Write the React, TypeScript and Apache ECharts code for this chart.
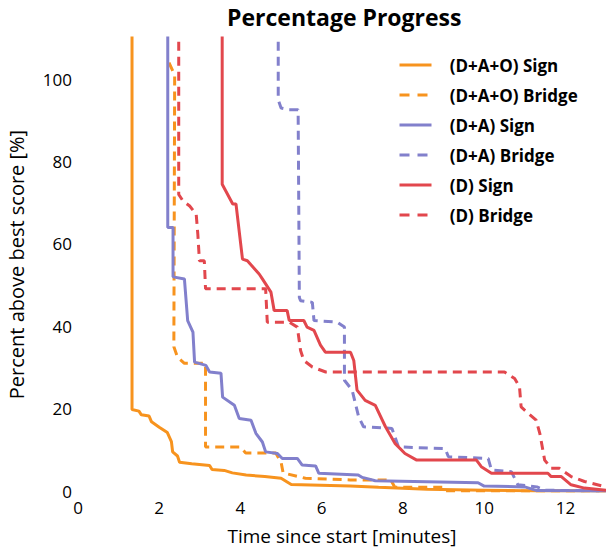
import React, { useEffect, useRef } from "react";
import * as echarts from "echarts";

const seriesNames = [
  "(D+A+O) Sign",
  "(D+A+O) Bridge",
  "(D+A) Sign",
  "(D+A) Bridge",
  "(D) Sign",
  "(D) Bridge",
];

const daoSignX = [1.33, 1.33, 1.5, 1.56, 1.75, 1.81, 2.0, 2.2, 2.3, 2.33, 2.45, 2.5, 2.8, 3.24, 3.3, 3.6, 3.8, 4.14, 4.6, 5.0, 5.15, 5.25, 6.7, 7.4, 8.6, 10.0, 11.3, 13];
const daoSignY = [120, 19.8, 19.4, 18.5, 18.2, 16.8, 15.5, 14.2, 12, 9.5, 8.5, 7, 6.6, 6.2, 5.2, 5, 4.4, 3.9, 3.5, 3.1, 2.2, 1.6, 1.2, 0.9, 0.4, 0.2, 0, 0];

const daoBridgeX = [2.24, 2.38, 2.36, 2.45, 2.62, 3.14, 3.14, 4.0, 4.13, 4.87, 5.0, 5.05, 5.6, 6.7, 7.7, 7.8, 9.0, 9.05, 13];
const daoBridgeY = [104, 101, 35, 32.5, 31, 31, 10.7, 10.7, 9.2, 9.2, 7, 4.4, 3.1, 2.7, 2.7, 0.9, 0.9, 0, 0];

const daSignX = [2.21, 2.21, 2.34, 2.34, 2.62, 2.7, 2.83, 2.87, 3.15, 3.24, 3.52, 3.56, 3.85, 3.97, 4.26, 4.38, 4.54, 4.62, 4.91, 5.03, 5.4, 5.52, 5.85, 5.93, 6.9, 7.0, 7.32, 9.85, 10.0, 11.0, 11.3, 13];
const daSignY = [120, 64, 64, 52, 51.5, 41.4, 38.6, 31.3, 30.5, 28.9, 28.6, 22.8, 20.8, 17.6, 17.2, 14, 11.9, 9.5, 9.1, 7.9, 7.9, 6.3, 6.1, 4.3, 3.9, 3.3, 2.5, 2.0, 1.2, 1.0, 0.1, 0];

const daBridgeX = [4.93, 4.93, 5.0, 5.2, 5.42, 5.45, 5.48, 5.77, 5.81, 6.38, 6.56, 6.56, 6.75, 6.91, 7.03, 7.73, 7.89, 9.04, 9.12, 10.1, 10.18, 10.67, 10.83, 11.3, 11.5, 13];
const daBridgeY = [120, 95, 93, 92.6, 92.6, 47, 46.2, 45.8, 41.4, 41, 39.8, 26.9, 24.5, 18, 15.6, 15.2, 10.7, 10.3, 8.3, 7.9, 5.1, 4.7, 1.5, 1.0, 0.2, 0];

const dSignX = [3.55, 3.55, 3.81, 3.89, 4.05, 4.17, 4.46, 4.54, 4.75, 4.83, 5.15, 5.2, 5.56, 5.64, 5.81, 5.97, 6.09, 6.71, 6.79, 6.87, 7.07, 7.32, 7.57, 7.81, 8.05, 8.34, 9.81, 9.93, 10.18, 11.57, 11.65, 11.9, 12.14, 12.47, 13];
const dSignY = [120, 74.5, 69.7, 69.7, 56.3, 55.9, 52.7, 51.5, 48.3, 43.8, 43.8, 41.4, 41.4, 39.8, 39, 35.4, 33.7, 33.7, 31.7, 24.5, 22, 20.8, 15.6, 11.5, 9.1, 7.5, 7.5, 5.9, 4.3, 4.3, 3.5, 3.5, 1.5, 0.7, 0.2];

const dBridgeX = [2.48, 2.48, 2.58, 2.75, 2.91, 2.95, 2.99, 3.11, 3.14, 4.62, 4.66, 5.2, 5.4, 5.48, 5.56, 5.77, 6.1, 10.5, 10.75, 10.87, 10.91, 11.28, 11.37, 11.49, 11.65, 11.85, 12.14, 12.47, 13];
const dBridgeY = [120, 72, 70.5, 69.2, 67.2, 62.4, 55.9, 55.9, 49.1, 49.1, 41, 41, 39.8, 34.1, 31.7, 30.1, 28.9, 28.9, 27.3, 25.3, 20.4, 17.2, 14, 7.5, 5.5, 5.5, 3.5, 2.3, 1];

const xTicks = [0, 2, 4, 6, 8, 10, 12];
const yTicks = [0, 20, 40, 60, 80, 100];

const ORANGE = "#f7931e";
const PURPLE = "#8280cc";
const RED = "#e2474d";
const FONT = "'Open Sans', 'Noto Sans', sans-serif";

function zip(xs: number[], ys: number[]) {
  return xs.map((x, i) => [x, ys[i]]);
}

export default function App() {
  const ref = useRef<HTMLDivElement>(null);
  useEffect(() => {
    if (!ref.current) return;
    const chart = echarts.init(ref.current, null, { renderer: "svg" });
    const defs = [
      { x: daoSignX, y: daoSignY, color: ORANGE, dashed: false },
      { x: daoBridgeX, y: daoBridgeY, color: ORANGE, dashed: true },
      { x: daSignX, y: daSignY, color: PURPLE, dashed: false },
      { x: daBridgeX, y: daBridgeY, color: PURPLE, dashed: true },
      { x: dSignX, y: dSignY, color: RED, dashed: false },
      { x: dBridgeX, y: dBridgeY, color: RED, dashed: true },
    ];
    chart.setOption({
      animation: false,
      textStyle: { fontFamily: FONT },
      title: {
        text: "Percentage Progress",
        left: 222,
        top: 0,
        textStyle: { fontFamily: FONT, fontWeight: "bold", fontSize: 23, color: "#000" },
      },
      legend: {
        orient: "vertical",
        left: 393,
        top: 50,
        padding: 5,
        itemWidth: 32,
        itemHeight: 10,
        itemGap: 10,
        data: seriesNames.map((n, i) => ({
          name: n,
          itemStyle: { opacity: 0 },
          lineStyle: defs[i].dashed ? { type: [10, 8], width: 3, color: defs[i].color } : { type: "solid", width: 3, color: defs[i].color },
        })),
        formatter: (n: string) => "\u00a0\u00a0\u00a0" + n,
        textStyle: {
          fontFamily: FONT,
          fontWeight: "bold",
          fontSize: 17,
          color: "#000",
          lineHeight: 20,
        },
      },
      grid: { left: 78, right: 0, top: 38, bottom: 59, containLabel: false, outerBoundsMode: "none" },
      xAxis: {
        type: "value",
        min: xTicks[0],
        max: 13,
        interval: 2,
        name: "Time since start [minutes]",
        nameLocation: "middle",
        nameGap: 35,
        nameTextStyle: { fontFamily: FONT, fontSize: 19, color: "#000" },
        axisLine: { show: false },
        axisTick: { show: false },
        splitLine: { show: false },
        axisLabel: { showMaxLabel: false, margin: 8, fontFamily: FONT, fontSize: 17, color: "#000" },
      },
      yAxis: {
        type: "value",
        min: yTicks[0],
        max: 110,
        interval: 20,
        name: "Percent above best score [%]",
        nameLocation: "middle",
        nameGap: 52,
        nameTextStyle: { fontFamily: FONT, fontSize: 20, color: "#000" },
        axisLine: { show: false },
        axisTick: { show: false },
        splitLine: { show: false },
        axisLabel: { showMaxLabel: false, margin: 6, fontFamily: FONT, fontSize: 17, color: "#000" },
      },
      series: defs.map((d, i) => ({
        name: seriesNames[i],
        type: "line",
        data: zip(d.x, d.y),
        symbol: "none",
        showSymbol: false,
        clip: true,
        color: d.color,
        lineStyle: { color: d.color, width: 3, type: d.dashed ? [9, 6] : "solid" },
      })),
    });
    return () => chart.dispose();
  }, []);
  return (
    <div
      ref={ref}
      style={{ position: "fixed", left: 0, top: 0, width: 606, height: 550, background: "#fff" }}
    />
  );
}
